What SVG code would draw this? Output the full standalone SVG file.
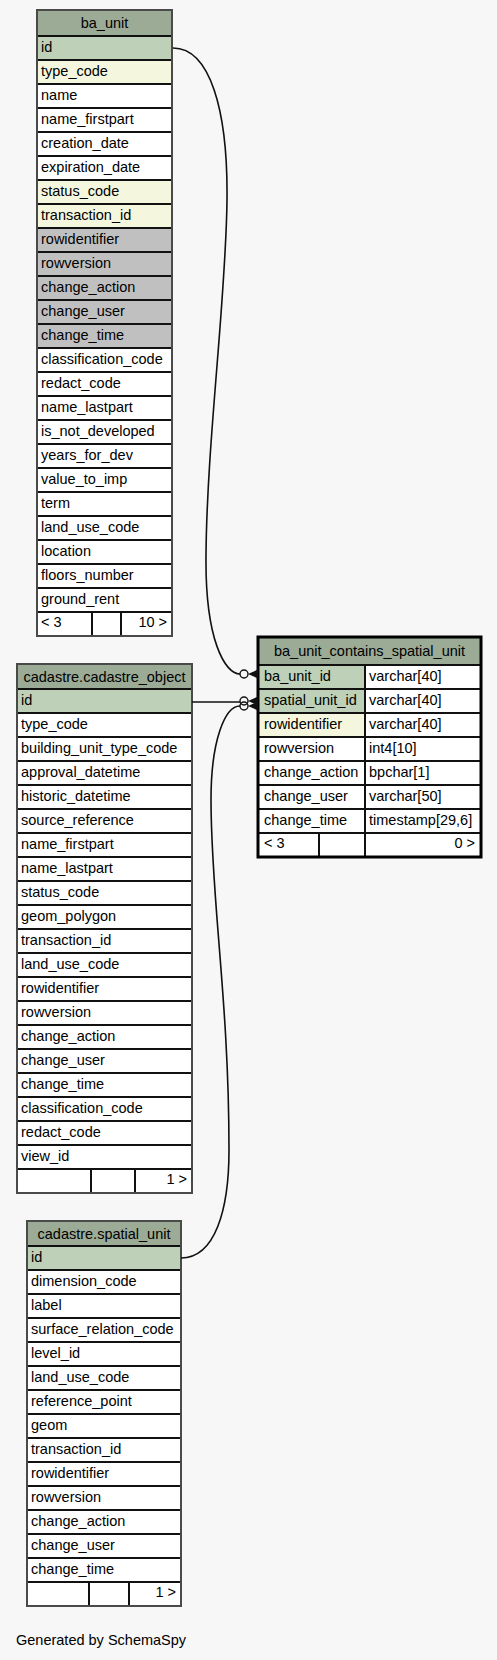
<svg xmlns="http://www.w3.org/2000/svg" width="497" height="1660" viewBox="0 0 497 1660">
<style>
.t{font-family:"Liberation Sans",Arial,sans-serif;font-size:14.5px;fill:#000}
.c{text-anchor:middle}
.r{text-anchor:end}
.tb rect{stroke:#111;stroke-width:2}
.hd{fill:#9bab96}
.pk{fill:#bed1b8}
.ix{fill:#f4f7de}
.ex{fill:#c0c0c0}
.w{fill:#fff}
.tb rect.ol{fill:none;stroke:#4a4a4a;stroke-width:2}
.tb rect.olb{fill:none;stroke:#000;stroke-width:3}
.e{fill:none;stroke:#111;stroke-width:1.6}
.circ{fill:none;stroke:#111;stroke-width:1.4}
</style>
<rect x="0" y="0" width="497" height="1660" style="fill:#f7f7f7;stroke:none"/>

<g id="ba_unit" class="tb">
<rect class="hd" x="37" y="10" width="135" height="26"/>
<text class="t c" x="104.5" y="28">ba_unit</text>
<rect class="pk" x="37" y="36" width="135" height="24"/><text class="t" x="41" y="52">id</text>
<rect class="ix" x="37" y="60" width="135" height="24"/><text class="t" x="41" y="76">type_code</text>
<rect class="w" x="37" y="84" width="135" height="24"/><text class="t" x="41" y="100">name</text>
<rect class="w" x="37" y="108" width="135" height="24"/><text class="t" x="41" y="124">name_firstpart</text>
<rect class="w" x="37" y="132" width="135" height="24"/><text class="t" x="41" y="148">creation_date</text>
<rect class="w" x="37" y="156" width="135" height="24"/><text class="t" x="41" y="172">expiration_date</text>
<rect class="ix" x="37" y="180" width="135" height="24"/><text class="t" x="41" y="196">status_code</text>
<rect class="ix" x="37" y="204" width="135" height="24"/><text class="t" x="41" y="220">transaction_id</text>
<rect class="ex" x="37" y="228" width="135" height="24"/><text class="t" x="41" y="244">rowidentifier</text>
<rect class="ex" x="37" y="252" width="135" height="24"/><text class="t" x="41" y="268">rowversion</text>
<rect class="ex" x="37" y="276" width="135" height="24"/><text class="t" x="41" y="292">change_action</text>
<rect class="ex" x="37" y="300" width="135" height="24"/><text class="t" x="41" y="316">change_user</text>
<rect class="ex" x="37" y="324" width="135" height="24"/><text class="t" x="41" y="340">change_time</text>
<rect class="w" x="37" y="348" width="135" height="24"/><text class="t" x="41" y="364">classification_code</text>
<rect class="w" x="37" y="372" width="135" height="24"/><text class="t" x="41" y="388">redact_code</text>
<rect class="w" x="37" y="396" width="135" height="24"/><text class="t" x="41" y="412">name_lastpart</text>
<rect class="w" x="37" y="420" width="135" height="24"/><text class="t" x="41" y="436">is_not_developed</text>
<rect class="w" x="37" y="444" width="135" height="24"/><text class="t" x="41" y="460">years_for_dev</text>
<rect class="w" x="37" y="468" width="135" height="24"/><text class="t" x="41" y="484">value_to_imp</text>
<rect class="w" x="37" y="492" width="135" height="24"/><text class="t" x="41" y="508">term</text>
<rect class="w" x="37" y="516" width="135" height="24"/><text class="t" x="41" y="532">land_use_code</text>
<rect class="w" x="37" y="540" width="135" height="24"/><text class="t" x="41" y="556">location</text>
<rect class="w" x="37" y="564" width="135" height="24"/><text class="t" x="41" y="580">floors_number</text>
<rect class="w" x="37" y="588" width="135" height="24"/><text class="t" x="41" y="604">ground_rent</text>
<rect class="w" x="37" y="612" width="55" height="24"/>
<rect class="w" x="92" y="612" width="29" height="24"/>
<rect class="w" x="121" y="612" width="51" height="24"/>
<text class="t" x="41" y="627">&lt; 3</text>
<text class="t r" x="167" y="627">10 &gt;</text>
<rect class="ol" x="37" y="10" width="135" height="626"/>
</g>

<g id="cadastre_object" class="tb">
<rect class="hd" x="17" y="664" width="175" height="25"/>
<text class="t c" x="104.5" y="682">cadastre.cadastre_object</text>
<rect class="pk" x="17" y="689" width="175" height="24"/><text class="t" x="21" y="705">id</text>
<rect class="w" x="17" y="713" width="175" height="24"/><text class="t" x="21" y="729">type_code</text>
<rect class="w" x="17" y="737" width="175" height="24"/><text class="t" x="21" y="753">building_unit_type_code</text>
<rect class="w" x="17" y="761" width="175" height="24"/><text class="t" x="21" y="777">approval_datetime</text>
<rect class="w" x="17" y="785" width="175" height="24"/><text class="t" x="21" y="801">historic_datetime</text>
<rect class="w" x="17" y="809" width="175" height="24"/><text class="t" x="21" y="825">source_reference</text>
<rect class="w" x="17" y="833" width="175" height="24"/><text class="t" x="21" y="849">name_firstpart</text>
<rect class="w" x="17" y="857" width="175" height="24"/><text class="t" x="21" y="873">name_lastpart</text>
<rect class="w" x="17" y="881" width="175" height="24"/><text class="t" x="21" y="897">status_code</text>
<rect class="w" x="17" y="905" width="175" height="24"/><text class="t" x="21" y="921">geom_polygon</text>
<rect class="w" x="17" y="929" width="175" height="24"/><text class="t" x="21" y="945">transaction_id</text>
<rect class="w" x="17" y="953" width="175" height="24"/><text class="t" x="21" y="969">land_use_code</text>
<rect class="w" x="17" y="977" width="175" height="24"/><text class="t" x="21" y="993">rowidentifier</text>
<rect class="w" x="17" y="1001" width="175" height="24"/><text class="t" x="21" y="1017">rowversion</text>
<rect class="w" x="17" y="1025" width="175" height="24"/><text class="t" x="21" y="1041">change_action</text>
<rect class="w" x="17" y="1049" width="175" height="24"/><text class="t" x="21" y="1065">change_user</text>
<rect class="w" x="17" y="1073" width="175" height="24"/><text class="t" x="21" y="1089">change_time</text>
<rect class="w" x="17" y="1097" width="175" height="24"/><text class="t" x="21" y="1113">classification_code</text>
<rect class="w" x="17" y="1121" width="175" height="24"/><text class="t" x="21" y="1137">redact_code</text>
<rect class="w" x="17" y="1145" width="175" height="24"/><text class="t" x="21" y="1161">view_id</text>
<rect class="w" x="17" y="1169" width="74" height="24"/>
<rect class="w" x="91" y="1169" width="44" height="24"/>
<rect class="w" x="135" y="1169" width="57" height="24"/>
<text class="t r" x="187" y="1184">1 &gt;</text>
<rect class="ol" x="17" y="664" width="175" height="529"/>
</g>

<g id="spatial_unit" class="tb">
<rect class="hd" x="27" y="1221" width="154" height="25"/>
<text class="t c" x="104" y="1239">cadastre.spatial_unit</text>
<rect class="pk" x="27" y="1246" width="154" height="24"/><text class="t" x="31" y="1262">id</text>
<rect class="w" x="27" y="1270" width="154" height="24"/><text class="t" x="31" y="1286">dimension_code</text>
<rect class="w" x="27" y="1294" width="154" height="24"/><text class="t" x="31" y="1310">label</text>
<rect class="w" x="27" y="1318" width="154" height="24"/><text class="t" x="31" y="1334">surface_relation_code</text>
<rect class="w" x="27" y="1342" width="154" height="24"/><text class="t" x="31" y="1358">level_id</text>
<rect class="w" x="27" y="1366" width="154" height="24"/><text class="t" x="31" y="1382">land_use_code</text>
<rect class="w" x="27" y="1390" width="154" height="24"/><text class="t" x="31" y="1406">reference_point</text>
<rect class="w" x="27" y="1414" width="154" height="24"/><text class="t" x="31" y="1430">geom</text>
<rect class="w" x="27" y="1438" width="154" height="24"/><text class="t" x="31" y="1454">transaction_id</text>
<rect class="w" x="27" y="1462" width="154" height="24"/><text class="t" x="31" y="1478">rowidentifier</text>
<rect class="w" x="27" y="1486" width="154" height="24"/><text class="t" x="31" y="1502">rowversion</text>
<rect class="w" x="27" y="1510" width="154" height="24"/><text class="t" x="31" y="1526">change_action</text>
<rect class="w" x="27" y="1534" width="154" height="24"/><text class="t" x="31" y="1550">change_user</text>
<rect class="w" x="27" y="1558" width="154" height="24"/><text class="t" x="31" y="1574">change_time</text>
<rect class="w" x="27" y="1582" width="62" height="24"/>
<rect class="w" x="89" y="1582" width="40" height="24"/>
<rect class="w" x="129" y="1582" width="52" height="24"/>
<text class="t r" x="176" y="1597">1 &gt;</text>
<rect class="ol" x="27" y="1221" width="154" height="385"/>
</g>

<g id="ba_unit_contains_spatial_unit" class="tb">
<rect class="hd" x="258" y="637" width="223" height="28"/>
<text class="t c" x="369.5" y="656">ba_unit_contains_spatial_unit</text>
<rect class="pk" x="258" y="665" width="107" height="24"/><rect class="w" x="365" y="665" width="116" height="24"/>
<text class="t" x="264" y="681">ba_unit_id</text><text class="t" x="369" y="681">varchar[40]</text>
<rect class="pk" x="258" y="689" width="107" height="24"/><rect class="w" x="365" y="689" width="116" height="24"/>
<text class="t" x="264" y="705">spatial_unit_id</text><text class="t" x="369" y="705">varchar[40]</text>
<rect class="ix" x="258" y="713" width="107" height="24"/><rect class="w" x="365" y="713" width="116" height="24"/>
<text class="t" x="264" y="729">rowidentifier</text><text class="t" x="369" y="729">varchar[40]</text>
<rect class="w" x="258" y="737" width="107" height="24"/><rect class="w" x="365" y="737" width="116" height="24"/>
<text class="t" x="264" y="753">rowversion</text><text class="t" x="369" y="753">int4[10]</text>
<rect class="w" x="258" y="761" width="107" height="24"/><rect class="w" x="365" y="761" width="116" height="24"/>
<text class="t" x="264" y="777">change_action</text><text class="t" x="369" y="777">bpchar[1]</text>
<rect class="w" x="258" y="785" width="107" height="24"/><rect class="w" x="365" y="785" width="116" height="24"/>
<text class="t" x="264" y="801">change_user</text><text class="t" x="369" y="801">varchar[50]</text>
<rect class="w" x="258" y="809" width="107" height="24"/><rect class="w" x="365" y="809" width="116" height="24"/>
<text class="t" x="264" y="825">change_time</text><text class="t" x="369" y="825">timestamp[29,6]</text>
<rect class="w" x="258" y="833" width="61" height="24"/>
<rect class="w" x="319" y="833" width="46" height="24"/>
<rect class="w" x="365" y="833" width="116" height="24"/>
<text class="t" x="264" y="848">&lt; 3</text>
<text class="t r" x="475" y="848">0 &gt;</text>
<rect class="olb" x="258" y="637" width="223" height="220"/>
</g>

<g id="connectors">
<path class="e" d="M173,48 C210,48 228,110 227,200 C226,300 207,440 206,555 C205,640 225,674 240,674"/>
<circle class="circ" cx="244" cy="674" r="4"/>
<polygon points="248,674 258,669.5 258,678.5" fill="#111"/>
<path class="e" d="M192,702 L240,702"/>
<path class="e" d="M181,1258 C215,1258 229,1210 229,1150 C229,1000 211,900 211,800 C211,740 225,706 240,706"/>
<circle class="circ" cx="244" cy="701" r="4"/>
<circle class="circ" cx="244" cy="706" r="4"/>
<polygon points="248,701 258,696.5 258,705.5" fill="#111"/>
<polygon points="248,706 258,701.5 258,710.5" fill="#111"/>
</g>

<text class="t" x="16" y="1645">Generated by SchemaSpy</text>
</svg>
